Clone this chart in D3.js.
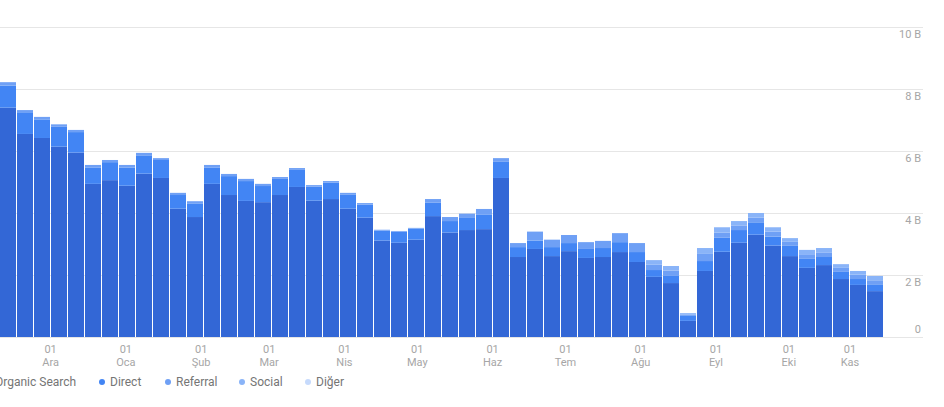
<!DOCTYPE html>
<html>
<head>
<meta charset="utf-8">
<script src="https://cdn.jsdelivr.net/npm/d3@7/dist/d3.min.js"></script>
<style>
  html, body { margin: 0; padding: 0; background: #fff; overflow: hidden; }
  svg { display: block; font-family: Roboto, "Noto Sans", Arial, sans-serif; }
</style>
</head>
<body>
<svg id="chart" width="944" height="407"></svg>
<script>
// Weekly sessions, weeks starting Sunday 2018-11-11
const weekStart = "2018-11-11";
const seriesNames = ["Organic Search", "Direct", "Referral", "Social", "Diğer"];
const organic = [7400,6550,6420,6140,5950,4940,5060,4880,5270,5130,4140,3870,4940,4580,4390,4350,4580,4840,4400,4450,4140,3850,3110,3040,3140,3900,3370,3450,3480,5130,2580,2840,2610,2770,2550,2580,2740,2420,1940,1740,520,2130,2750,3040,3300,2950,2610,2230,2320,1870,1680,1480];
const direct  = [710,700,600,640,660,530,580,580,590,580,440,440,530,610,640,520,520,550,450,530,460,420,320,360,360,430,370,390,460,520,320,270,290,260,290,290,320,320,220,230,160,320,450,410,380,290,330,290,260,230,190,200];
const referral= [110,70,80,80,70,80,70,90,80,60,70,70,80,70,70,70,60,60,50,50,50,50,30,20,20,120,130,140,190,120,130,290,240,260,220,230,290,290,170,170,50,230,170,150,170,160,130,150,150,130,140,150];
const social  = [0,0,0,0,0,0,0,0,0,0,0,0,0,0,0,0,0,0,0,0,0,0,0,0,0,0,0,0,0,0,0,0,0,0,0,0,0,0,150,150,40,190,170,140,150,140,120,140,140,120,120,140];
const diger   = [0,0,0,0,0,0,0,0,0,0,0,0,0,0,0,0,0,0,0,0,0,0,0,0,0,0,0,0,0,0,0,0,0,0,0,0,0,0,0,0,0,0,0,0,0,0,0,0,0,0,0,0];
const yTicks = [0, 2000, 4000, 6000, 8000, 10000];
const yTickLabels = ["0", "2 B", "4 B", "6 B", "8 B", "10 B"];
const monthTicks = ["2018-12-01","2019-01-01","2019-02-01","2019-03-01","2019-04-01","2019-05-01","2019-06-01","2019-07-01","2019-08-01","2019-09-01","2019-10-01","2019-11-01"];
const monthLabels = ["Ara","Oca","Şub","Mar","Nis","May","Haz","Tem","Ağu","Eyl","Eki","Kas"];
const colors = ["#3367d6", "#4285f4", "#6fa0f5", "#8ab4f8", "#c6dafc"];

const svg = d3.select("#chart");
const plotLeft = 0, plotRight = 883, gridRight = 923;
const yTop = 27, yBottom = 337;

const parse = d3.utcParse("%Y-%m-%d");
const start = parse(weekStart);
const weeks = organic.map((_, i) => d3.utcDay.offset(start, i * 7));

const rows = weeks.map((w, i) => ({
  week: w,
  "Organic Search": organic[i], "Direct": direct[i], "Referral": referral[i],
  "Social": social[i], "Diğer": diger[i]
}));

const x = d3.scaleBand().domain(weeks.map(d => +d)).range([plotLeft, plotRight]).paddingInner(1/17).paddingOuter(0);
const xTime = d3.scaleUtc().domain([start, d3.utcDay.offset(start, weeks.length * 7)])
  .range([plotLeft + 2, plotLeft + 2 + x.step() * weeks.length]);
const y = d3.scaleLinear().domain([0, 10000]).range([yBottom, yTop]);

// gridlines
svg.append("g").selectAll("line").data(yTicks).join("line")
  .attr("x1", plotLeft).attr("x2", gridRight)
  .attr("y1", d => Math.round(y(d)) + 0.5).attr("y2", d => Math.round(y(d)) + 0.5)
  .attr("stroke", "#e6e6e6").attr("stroke-width", 1);

// y labels (right side)
svg.append("g").selectAll("text").data(yTicks).join("text")
  .attr("x", 921)
  .attr("y", (d, i) => d === 0 ? y(d) - 4 : y(d) + 11)
  .attr("text-anchor", "end")
  .attr("font-size", 11).attr("fill", "#a6a6a6")
  .text((d, i) => yTickLabels[i]);

// stacked bars
const stack = d3.stack().keys(seriesNames);
const layers = stack(rows);
svg.append("g").selectAll("g").data(layers).join("g")
  .attr("fill", (d, i) => colors[i])
  .selectAll("rect").data(d => d).join("rect")
  .attr("x", d => x(+d.data.week))
  .attr("width", x.bandwidth())
  .attr("y", d => y(d[1]))
  .attr("height", d => Math.max(0, y(d[0]) - y(d[1])));

// x labels
const xl = svg.append("g");
monthTicks.forEach((m, i) => {
  let px = xTime(parse(m));
  px = Math.min(px, plotRight - 33);
  xl.append("text").attr("x", px).attr("y", 353).attr("text-anchor", "middle")
    .attr("font-size", 11).attr("fill", "#a6a6a6").text("01");
  xl.append("text").attr("x", px).attr("y", 366).attr("text-anchor", "middle")
    .attr("font-size", 11).attr("fill", "#a6a6a6").text(monthLabels[i]);
});

// legend
const legendX = [-13, 102, 168, 242, 308];
const lg = svg.append("g");
seriesNames.forEach((s, i) => {
  lg.append("circle").attr("cx", legendX[i]).attr("cy", 382).attr("r", 3).attr("fill", colors[i]);
  lg.append("text").attr("x", legendX[i] + 8).attr("y", 386).attr("font-size", 12)
    .attr("fill", "#757575").text(s);
});
</script>
</body>
</html>
